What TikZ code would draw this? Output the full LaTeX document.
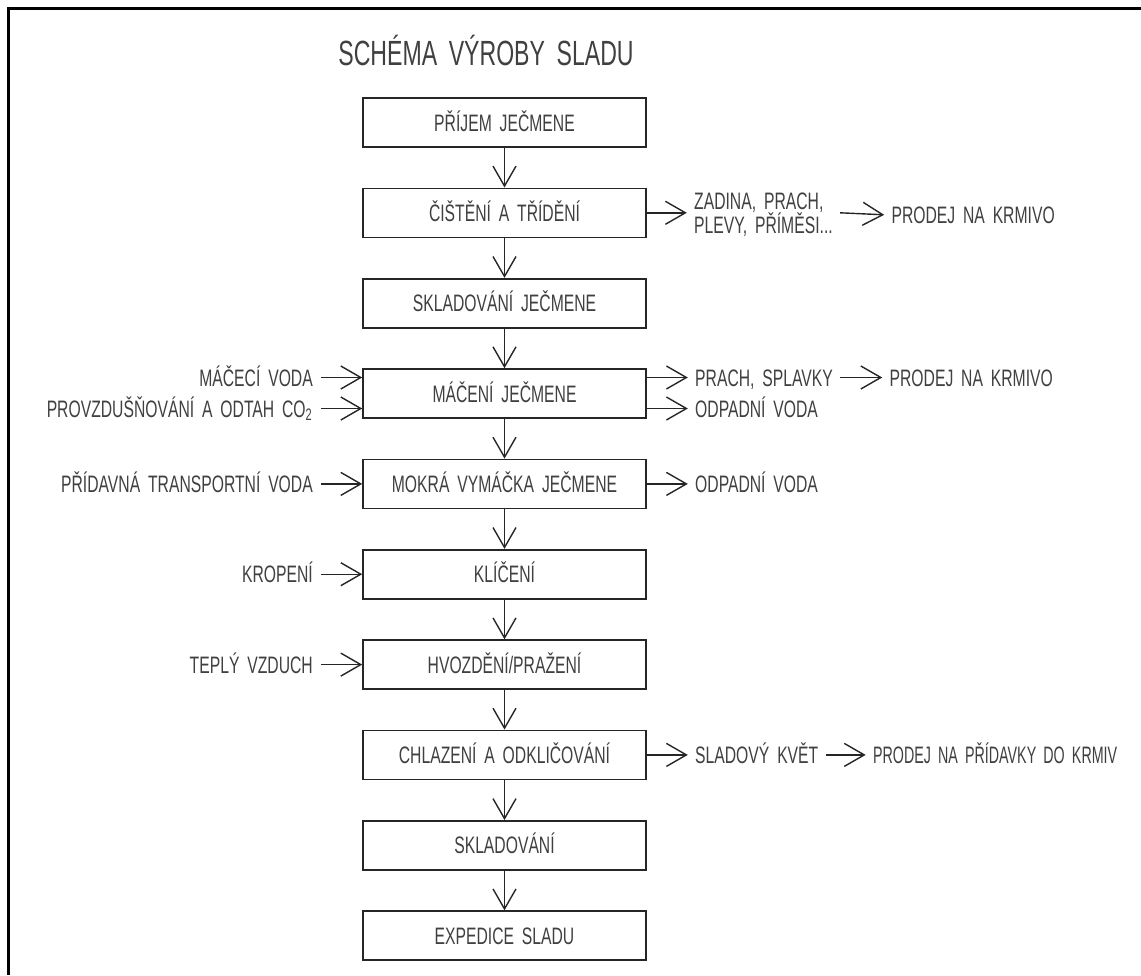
\documentclass[tikz,border=0pt]{standalone}
\usepackage{fontspec}
\setmainfont{Liberation Sans}[FakeStretch=0.66,WordSpace=1.8]
\newfontfamily\narrowfont{Liberation Sans}[FakeStretch=0.6,WordSpace=1.8]
\usetikzlibrary{arrows.meta}

\tikzset{
	stage/.style={draw=black!85, line width=0.8pt, minimum width=141.5pt, minimum height=24.5pt,
		inner sep=0pt, text height=8.5pt, text depth=0pt, text=black!75,
		font=\fontsize{11.9}{12}\selectfont},
	inlabel/.style={anchor=east, inner sep=4pt, text height=8.5pt, text depth=0pt, text=black!75,
		font=\fontsize{11.9}{12}\selectfont},
	outlabel/.style={anchor=west, inner sep=3.5pt, text height=8.5pt, text depth=0pt, text=black!75,
		font=\fontsize{11.9}{12}\selectfont},
	flow/.style={-{Straight Barb[length=10pt,width=11.5pt]}, draw=black!85, line width=0.7pt},
}

\begin{document}
\begin{tikzpicture}[x=0.5pt,y=-0.5pt]
			\useasboundingbox (0,0) rectangle (1141,975); % size of the sheet in px
			% frame of the sheet
			\draw[line width=1.5pt] (1141,8) -- (8,8) -- (8,975);
			\node[anchor=west, inner sep=0pt, text height=12.5pt, text depth=0pt, text=black!75,
				font=\fontsize{17.5}{20}\selectfont] (title) at (338,52.5) {SCHÉMA VÝROBY SLADU};
			% main line of the process
			\node[stage] (prijem)   at (504.5,122.5) {PŘÍJEM JEČMENE};
			\node[stage] (cisteni)  at (504.5,212.8) {ČIŠTĚNÍ A TŘÍDĚNÍ};
			\node[stage] (skladJ)   at (504.5,303.2) {SKLADOVÁNÍ JEČMENE};
			\node[stage] (maceni)   at (504.5,393.5) {MÁČENÍ JEČMENE};
			\node[stage] (vymacka)  at (504.5,483.9) {MOKRÁ VYMÁČKA JEČMENE};
			\node[stage] (kliceni)  at (504.5,574.2) {KLÍČENÍ};
			\node[stage] (hvozdeni) at (504.5,664.6) {HVOZDĚNÍ/PRAŽENÍ};
			\node[stage] (chlazeni) at (504.5,754.9) {CHLAZENÍ A ODKLIČOVÁNÍ};
			\node[stage] (sklad)    at (504.5,845.3) {SKLADOVÁNÍ};
			\node[stage] (expedice) at (504.5,935.6) {EXPEDICE SLADU};
			\draw[flow] (prijem) -- (cisteni);
			\draw[flow] (cisteni) -- (skladJ);
			\draw[flow] (skladJ) -- (maceni);
			\draw[flow] (maceni) -- (vymacka);
			\draw[flow] (vymacka) -- (kliceni);
			\draw[flow] (kliceni) -- (hvozdeni);
			\draw[flow] (hvozdeni) -- (chlazeni);
			\draw[flow] (chlazeni) -- (sklad);
			\draw[flow] (sklad) -- (expedice);
			% inputs from the left
			\node[inlabel] (macVoda)  at ([xshift=-20.5pt,yshift=8pt]maceni.west) {MÁČECÍ VODA};
			\node[inlabel] (provzd)   at ([xshift=-20.5pt,yshift=-7.5pt]maceni.west) {PROVZDUŠŇOVÁNÍ A ODTAH CO\textsubscript{2}};
			\node[inlabel] (trVoda)   at ([xshift=-20.5pt]vymacka.west) {PŘÍDAVNÁ TRANSPORTNÍ VODA};
			\node[inlabel] (kropeni)  at ([xshift=-20.5pt]kliceni.west) {KROPENÍ};
			\node[inlabel] (vzduch)   at ([xshift=-20.5pt]hvozdeni.west) {TEPLÝ VZDUCH};
			\draw[flow] (macVoda.east) -- (macVoda.east -| maceni.west);
			\draw[flow] (provzd.east) -- (provzd.east -| maceni.west);
			\draw[flow] (trVoda) -- (vymacka);
			\draw[flow] (kropeni) -- (kliceni);
			\draw[flow] (vzduch) -- (hvozdeni);
			% outputs to the right
			\node[outlabel, align=left, text height=, text depth=] (zadina) at ([xshift=20pt,yshift=-1pt]cisteni.east)
				{ZADINA, PRACH,\\PLEVY, PŘÍMĚSI...};
			\node[outlabel] (krmivoA) at ([xshift=22pt]zadina.east) {PRODEJ NA KRMIVO};
			\node[outlabel] (prach)   at ([xshift=20.5pt,yshift=8pt]maceni.east) {PRACH, SPLAVKY};
			\node[outlabel] (krmivoB) at ([xshift=21pt]prach.east) {PRODEJ NA KRMIVO};
			\node[outlabel] (vodaA)   at ([xshift=20.5pt,yshift=-7.5pt]maceni.east) {ODPADNÍ VODA};
			\node[outlabel] (vodaB)   at ([xshift=20.5pt]vymacka.east) {ODPADNÍ VODA};
			\node[outlabel] (kvet)    at ([xshift=20.5pt]chlazeni.east) {SLADOVÝ KVĚT};
			\node[outlabel] (pridavky) at ([xshift=20pt]kvet.east) {\narrowfont PRODEJ NA PŘÍDAVKY DO KRMIV};
			\draw[flow] (cisteni.east) -- (cisteni.east -| zadina.west);
			\draw[flow] (zadina.east |- cisteni.east) -- (krmivoA.west);
			\draw[flow] (prach.west -| maceni.east) -- (prach.west);
			\draw[flow] (prach) -- (krmivoB);
			\draw[flow] (vodaA.west -| maceni.east) -- (vodaA.west);
			\draw[flow] (vymacka) -- (vodaB);
			\draw[flow] (chlazeni) -- (kvet);
			\draw[flow] (kvet) -- (pridavky);
		\end{tikzpicture}
\end{document}
